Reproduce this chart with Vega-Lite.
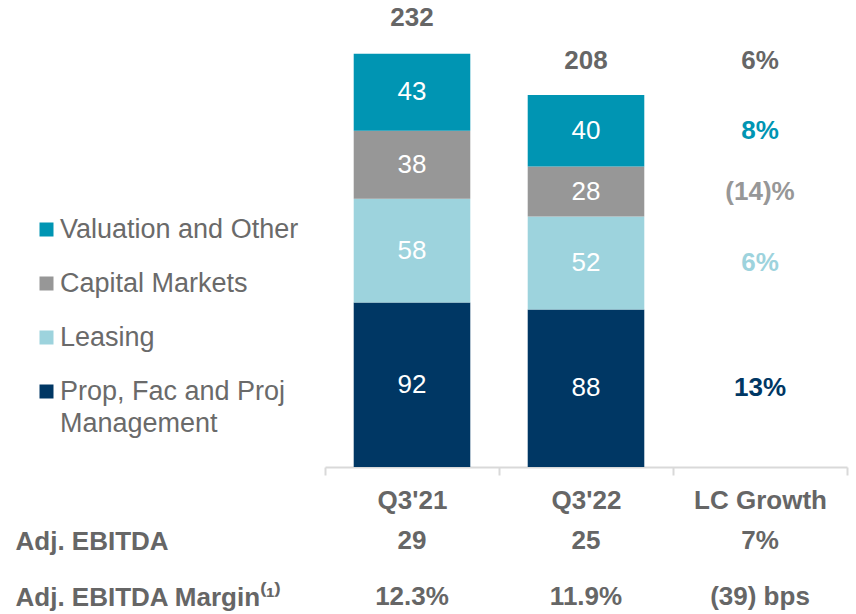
{
  "$schema": "https://vega.github.io/schema/vega-lite/v6.json",
  "autosize": "none",
  "width": 522,
  "height": 415,
  "padding": {"left": 325, "top": 52, "right": 9, "bottom": 147},
  "background": "white",
  "config": {
    "font": "Liberation Sans",
    "view": {"stroke": null},
    "style": {"guide-label": {"lineHeight": 32}}
  },
  "datasets": {
    "segs": [
      {"period": "Q3'21", "segment": "Prop, Fac and Proj Management", "value": 92, "rank": 1, "growth": ""},
      {"period": "Q3'21", "segment": "Leasing", "value": 58, "rank": 2, "growth": ""},
      {"period": "Q3'21", "segment": "Capital Markets", "value": 38, "rank": 3, "growth": ""},
      {"period": "Q3'21", "segment": "Valuation and Other", "value": 43, "rank": 4, "growth": ""},
      {"period": "Q3'22", "segment": "Prop, Fac and Proj Management", "value": 88, "rank": 1, "growth": "13%"},
      {"period": "Q3'22", "segment": "Leasing", "value": 52, "rank": 2, "growth": "6%"},
      {"period": "Q3'22", "segment": "Capital Markets", "value": 28, "rank": 3, "growth": "(14)%"},
      {"period": "Q3'22", "segment": "Valuation and Other", "value": 40, "rank": 4, "growth": "8%"}
    ],
    "totals": [
      {"col": "Q3'21", "total": 232, "label": "232"},
      {"col": "Q3'22", "total": 208, "label": "208"},
      {"col": "LC Growth", "total": 208, "label": "6%"}
    ],
    "table": [
      {"col": "Q3'21", "row": "Adj. EBITDA", "label": "29"},
      {"col": "Q3'22", "row": "Adj. EBITDA", "label": "25"},
      {"col": "LC Growth", "row": "Adj. EBITDA", "label": "7%"},
      {"col": "Q3'21", "row": "Adj. EBITDA Margin⁽¹⁾", "label": "12.3%"},
      {"col": "Q3'22", "row": "Adj. EBITDA Margin⁽¹⁾", "label": "11.9%"},
      {"col": "LC Growth", "row": "Adj. EBITDA Margin⁽¹⁾", "label": "(39) bps"}
    ]
  },
  "layer": [
    {
      "layer": [
        {
          "data": {"name": "segs"},
          "mark": {"type": "bar", "width": {"band": 0.67}},
          "encoding": {
            "x": {
              "field": "period", "type": "nominal",
              "scale": {"domain": ["Q3'21", "Q3'22", "LC Growth"], "paddingInner": 0, "paddingOuter": 0},
              "axis": {
                "title": null, "labelAngle": 0, "tickBand": "extent",
                "domainColor": "#d9d9d9", "domainWidth": 2,
                "tickColor": "#d9d9d9", "tickWidth": 2, "tickSize": 8,
                "labelFontSize": 26, "labelFontWeight": "bold", "labelColor": "#666666",
                "labelPadding": 12
              }
            },
            "y": {
              "field": "value", "type": "quantitative", "stack": "zero",
              "scale": {"domain": [0, 232], "nice": false},
              "axis": null
            },
            "color": {
              "field": "segment", "type": "nominal",
              "scale": {
                "domain": ["Valuation and Other", "Capital Markets", "Leasing", "Prop, Fac and Proj Management"],
                "range": ["#0095b3", "#979797", "#9dd3dd", "#003764"]
              },
              "legend": {
                "title": null, "orient": "none", "legendX": -292, "legendY": 164,
                "symbolType": "square", "symbolSize": 196, "symbolStrokeWidth": 0,
                "labelFontSize": 27, "labelColor": "#6a6a6a", "labelLimit": 400,
                "labelOffset": 0, "rowPadding": 26,
                "labelExpr": "datum.label == 'Prop, Fac and Proj Management' ? ['Prop, Fac and Proj', 'Management'] : datum.label"
              }
            },
            "order": {"field": "rank", "type": "quantitative"}
          }
        },
        {
          "data": {"name": "segs"},
          "mark": {"type": "text", "color": "white", "fontSize": 26, "baseline": "middle"},
          "encoding": {
            "x": {"field": "period", "type": "nominal"},
            "y": {"field": "value", "type": "quantitative", "stack": "zero", "bandPosition": 0.5},
            "text": {"field": "value", "type": "quantitative"},
            "order": {"field": "rank", "type": "quantitative"}
          }
        },
        {
          "data": {"name": "segs"},
          "transform": [{"filter": "datum.period == \"Q3'22\""}],
          "mark": {"type": "text", "fontSize": 26, "fontWeight": "bold", "baseline": "middle"},
          "encoding": {
            "x": {"datum": "LC Growth", "type": "nominal"},
            "y": {"field": "value", "type": "quantitative", "stack": "zero", "bandPosition": 0.5},
            "text": {"field": "growth", "type": "nominal"},
            "color": {"field": "segment", "type": "nominal"},
            "order": {"field": "rank", "type": "quantitative"}
          }
        },
        {
          "data": {"name": "totals"},
          "mark": {"type": "text", "fontSize": 26, "fontWeight": "bold", "baseline": "middle", "dy": -34, "color": "#666666"},
          "encoding": {
            "x": {"field": "col", "type": "nominal"},
            "y": {"field": "total", "type": "quantitative"},
            "text": {"field": "label", "type": "nominal"}
          }
        }
      ]
    },
    {
      "data": {"name": "table"},
      "mark": {"type": "text", "fontSize": 26, "fontWeight": "bold", "baseline": "middle", "color": "#666666"},
      "encoding": {
        "x": {"field": "col", "type": "nominal"},
        "y": {
          "field": "row", "type": "nominal",
          "scale": {"type": "point", "domain": ["Adj. EBITDA", "Adj. EBITDA Margin⁽¹⁾"], "range": [489, 545], "padding": 0},
          "axis": {
            "title": null, "orient": "left", "domain": false, "ticks": false,
            "labelAlign": "left", "labelPadding": 310, "labelBaseline": "middle",
            "labelFontSize": 26, "labelFontWeight": "bold", "labelColor": "#666666", "labelLimit": 400
          }
        },
        "text": {"field": "label", "type": "nominal"}
      }
    }
  ],
  "resolve": {"scale": {"y": "independent"}, "axis": {"y": "independent"}}
}
